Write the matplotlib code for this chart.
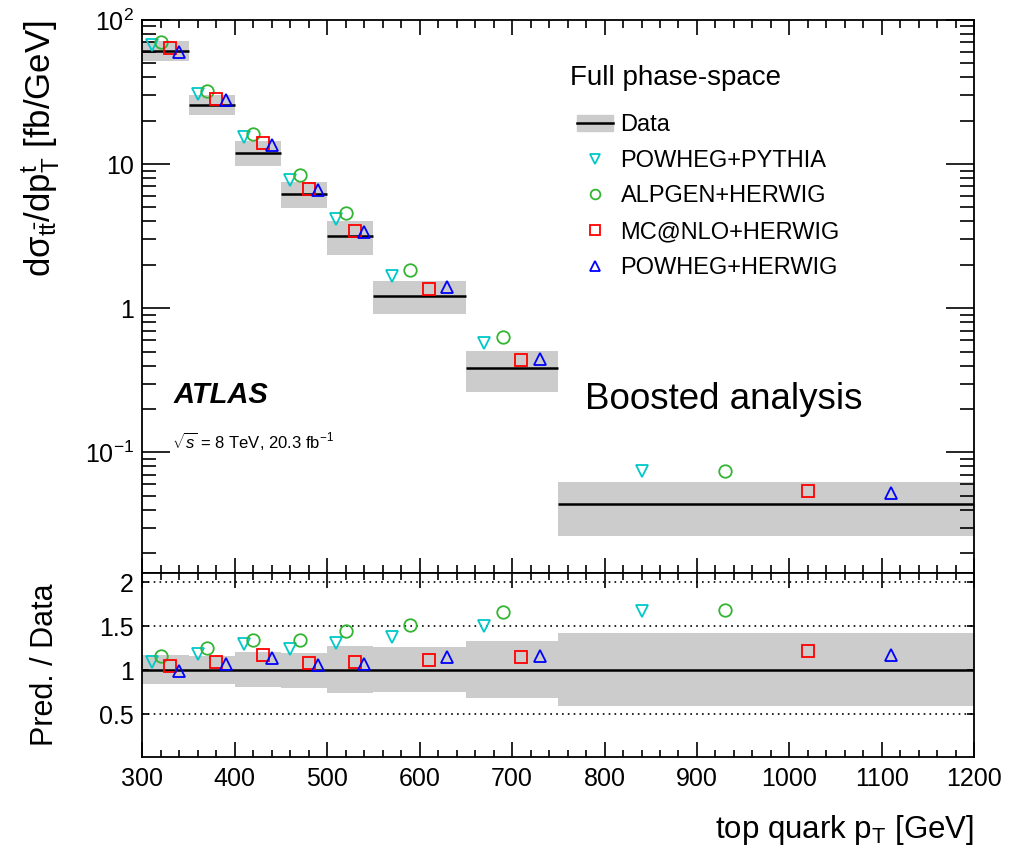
import numpy as np
import matplotlib
matplotlib.use("Agg")
import matplotlib.pyplot as plt
from matplotlib.lines import Line2D
from matplotlib.patches import Patch
from matplotlib.ticker import MultipleLocator, FixedLocator, LogLocator, NullFormatter, FixedFormatter

# top quark pT bins [GeV] and measured cross-section [fb/GeV]
bin_edges = [300, 350, 400, 450, 500, 550, 650, 750, 1200]
data = [60.6, 25.8, 11.9, 6.22, 3.15, 1.22, 0.383, 0.0442]
# total uncertainty band, relative to data
unc_up = [1.17, 1.16, 1.21, 1.20, 1.28, 1.27, 1.33, 1.42]
unc_down = [0.85, 0.85, 0.81, 0.80, 0.74, 0.75, 0.69, 0.60]

# prediction / data
ratio_powheg_pythia = [1.10, 1.19, 1.30, 1.24, 1.31, 1.38, 1.50, 1.67]
ratio_alpgen_herwig = [1.16, 1.25, 1.35, 1.34, 1.45, 1.52, 1.66, 1.68]
ratio_mcatnlo_herwig = [1.05, 1.10, 1.17, 1.08, 1.09, 1.12, 1.15, 1.22]
ratio_powheg_herwig = [0.99, 1.07, 1.14, 1.06, 1.07, 1.15, 1.16, 1.18]

generators = ["POWHEG+PYTHIA", "ALPGEN+HERWIG", "MC@NLO+HERWIG", "POWHEG+HERWIG"]

plt.rcParams["font.family"] = ["Liberation Sans", "DejaVu Sans"]
plt.rcParams["mathtext.fontset"] = "custom"
plt.rcParams["mathtext.rm"] = "Liberation Sans"
plt.rcParams["mathtext.it"] = "Liberation Sans:italic"
plt.rcParams["mathtext.bf"] = "Liberation Sans:bold"

edges = np.array(bin_edges, dtype=float)
lo, hi = edges[:-1], edges[1:]
width = hi - lo
data = np.array(data)
up = np.array(unc_up)
down = np.array(unc_down)
ratios = [np.array(r) for r in (ratio_powheg_pythia, ratio_alpgen_herwig,
                                ratio_mcatnlo_herwig, ratio_powheg_herwig)]
styles = [("v", "#00c8c8"), ("o", "#33b533"), ("s", "#ff0000"), ("^", "#0000ff")]
fracs = [0.2, 0.4, 0.6, 0.8]
band_col = "#cccccc"

fig = plt.figure(figsize=(10.17, 8.61), dpi=100)
ax = fig.add_axes([0.140, 0.334, 0.818, 0.643])
rx = fig.add_axes([0.140, 0.121, 0.818, 0.213], sharex=ax)

# --- top panel
ax.bar(lo, data * up - data * down, bottom=data * down, width=width,
       align="edge", color=band_col, lw=0, zorder=1)
ax.hlines(data, lo, hi, color="k", lw=1.8, zorder=2)
for (m, c), f, r in zip(styles, fracs, ratios):
    ax.plot(lo + f * width, data * r, ls="none", marker=m, mfc="none",
            mec=c, ms=9, mew=1.3, zorder=3)

ax.set_yscale("log")
ax.set_ylim(0.0145, 100)
ax.set_xlim(300, 1200)
ax.yaxis.set_major_locator(FixedLocator([0.1, 1, 10, 100]))
ax.yaxis.set_major_formatter(FixedFormatter(["$10^{-1}$", "1", "10", "$10^{2}$"]))
ax.yaxis.set_minor_locator(LogLocator(base=10, subs=np.arange(2, 10), numticks=20))
ax.yaxis.set_minor_formatter(NullFormatter())
ax.tick_params(axis="x", which="both", labelbottom=False)
ax.tick_params(which="both", direction="in", top=True, right=True, width=1.2)
ax.tick_params(axis="y", which="major", length=20, labelsize=18, pad=6)
ax.tick_params(axis="y", which="minor", length=10)
ax.tick_params(axis="x", which="major", length=11)
ax.tick_params(axis="x", which="minor", length=6)
ax.set_ylabel(r"dσ$_{\mathrm{t\bar{t}}}$/dp$^{\mathrm{t}}_{\mathrm{T}}$ [fb/GeV]",
              fontsize=25, loc="top")
ax.yaxis.set_label_coords(-0.097, 1.0)

ax.text(0.038, 0.307, "ATLAS", transform=ax.transAxes, fontsize=21,
        fontweight="bold", fontstyle="italic")
ax.text(0.036, 0.226, r"$\sqrt{s}$ = 8 TeV, 20.3 fb$^{-1}$", transform=ax.transAxes,
        fontsize=12)
ax.text(0.532, 0.297, "Boosted analysis", transform=ax.transAxes, fontsize=26.5)
ax.text(0.514, 0.882, "Full phase-space", transform=ax.transAxes, fontsize=20)

handles = [(Patch(color=band_col), Line2D([], [], color="k", lw=1.8))]
for m, c in styles:
    handles.append(Line2D([], [], ls="none", marker=m, mfc="none", mec=c, ms=7, mew=1.3))
leg = ax.legend(handles, ["Data"] + generators,
                loc="upper left", bbox_to_anchor=(0.508, 0.851), frameon=False,
                fontsize=17, handlelength=1.55, handletextpad=0.3,
                labelspacing=0.58, borderpad=0)

# --- ratio panel
rx.bar(lo, up - down, bottom=down, width=width, align="edge",
       color=band_col, lw=0, zorder=1)
rx.axhline(1.0, color="k", lw=1.8, zorder=2)
for yv in (0.5, 1.5, 2.0):
    rx.axhline(yv, color="k", lw=1.2, ls=(0, (1, 2.5)), zorder=1.5)
for (m, c), f, r in zip(styles, fracs, ratios):
    rx.plot(lo + f * width, r, ls="none", marker=m, mfc="none",
            mec=c, ms=9, mew=1.3, zorder=3)

rx.set_ylim(0.02, 2.1)
rx.set_xlim(300, 1200)
rx.yaxis.set_major_locator(FixedLocator([0.5, 1, 1.5, 2]))
rx.yaxis.set_major_formatter(FixedFormatter(["0.5", "1", "1.5", "2"]))
rx.xaxis.set_major_locator(MultipleLocator(100))
rx.xaxis.set_minor_locator(MultipleLocator(20))
rx.tick_params(which="both", direction="in", top=True, right=True, width=1.2)
rx.tick_params(axis="x", which="major", length=11, labelsize=18, pad=7)
rx.tick_params(axis="x", which="minor", length=5)
rx.tick_params(axis="y", which="major", length=5, labelsize=18, pad=6)
rx.set_ylabel("Pred. / Data", fontsize=22)
rx.yaxis.set_label_coords(-0.099, 0.5)
rx.set_xlabel(r"top quark p$_{\mathrm{T}}$ [GeV]", fontsize=22.5, loc="right", labelpad=16)

for a in (ax, rx):
    for s in a.spines.values():
        s.set_linewidth(1.3)

fig.savefig("out.png", dpi=100)
